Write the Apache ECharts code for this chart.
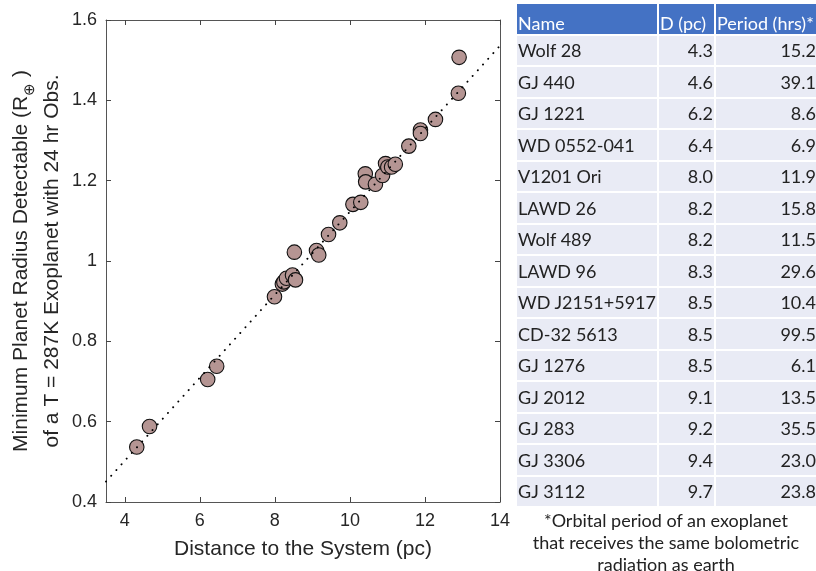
<!DOCTYPE html>
<html lang="en">
<head>
    <meta charset="UTF-8">
    <title>Exoplanet radius</title>
    <style>
        body { margin: 0; background: #fff; }
        .wrap { position: relative; width: 816px; height: 571px; }
        .chart { position: absolute; left: 0; top: 0; width: 816px; height: 571px; }
        table {
            position: absolute; left: 515px; top: 2px; width: 302px;
            border-collapse: separate; border-spacing: 2px;
            font-family: Lato, "Open Sans", sans-serif; font-size: 18px; color: #222;
            table-layout: fixed;
        }
        td, th { padding: 0 1px; height: 29.5px; background: #E9EBF5; vertical-align: middle; white-space: nowrap; overflow: visible; }
        th { background: #4472C4; color: #fff; font-weight: normal; vertical-align: bottom; padding-bottom: 0; text-align: left; }
        .num { text-align: right; }
        .note {
            position: absolute; left: 516px; top: 509px; width: 300px; text-align: center;
            font-family: Lato, "Open Sans", sans-serif; font-size: 18px; line-height: 22px; color: #222;
        }
    </style>
</head>
<body>
    <div class="wrap">
        <div class="chart"></div>
        <table id="tbl"></table>
        <div class="note">*Orbital period of an exoplanet<br>that receives the same bolometric<br>radiation as earth</div>
    </div>
    <script src="https://cdn.jsdelivr.net/npm/echarts@6/dist/echarts.min.js"></script>
    <script>
        // scatter points
        const distance = [4.32, 4.66, 6.21, 6.45, 7.99, 8.20, 8.24, 8.31, 8.47, 8.55, 8.52, 9.11, 9.17, 9.43, 9.73,
            10.08, 10.29, 10.41, 10.42, 10.68, 10.87, 10.95, 11.01, 11.11, 11.21, 11.57, 11.88, 11.88, 12.28, 12.89, 12.91]
        const radius = [0.537, 0.588, 0.705, 0.738, 0.911, 0.9425, 0.948, 0.957, 0.965, 0.953, 1.022, 1.026, 1.015, 1.066, 1.095,
            1.141, 1.146, 1.217, 1.197, 1.191, 1.213, 1.2425, 1.234, 1.234, 1.241, 1.286, 1.326, 1.3175, 1.3525, 1.4175, 1.507]
        // dotted trend line ends
        const trendX = [3.5, 14]
        const trendY = [0.451, 1.536]
        const xTicks = [4, 6, 8, 10, 12, 14]
        const yTicks = [0.4, 0.6, 0.8, 1, 1.2, 1.4, 1.6]

        // table
        const names = ['Wolf 28', 'GJ 440', 'GJ 1221', 'WD 0552-041', 'V1201 Ori', 'LAWD 26', 'Wolf 489', 'LAWD 96',
            'WD J2151+5917', 'CD-32 5613', 'GJ 1276', 'GJ 2012', 'GJ 283', 'GJ 3306', 'GJ 3112']
        const dists = ['4.3', '4.6', '6.2', '6.4', '8.0', '8.2', '8.2', '8.3', '8.5', '8.5', '8.5', '9.1', '9.2', '9.4', '9.7']
        const periods = ['15.2', '39.1', '8.6', '6.9', '11.9', '15.8', '11.5', '29.6', '10.4', '99.5', '6.1', '13.5', '35.5', '23.0', '23.8']

        let html = '<colgroup><col style="width:140px"><col style="width:55px"><col style="width:101px"></colgroup>'
        html += '<tr><th>Name</th><th>D (pc)</th><th>Period (hrs)*</th></tr>'
        names.forEach((n, i) => {
            html += `<tr><td>${n}</td><td class="num">${dists[i]}</td><td class="num">${periods[i]}</td></tr>`
        })
        document.querySelector('#tbl').innerHTML = html

        const chart = echarts.init(document.querySelector('.chart'))
        const axisCol = '#262626'
        const font = '"Liberation Sans", Arial, sans-serif'
        const boxAxis = {
            axisLine: { show: true, lineStyle: { color: '#555', width: 1 } },
            axisTick: { show: true, inside: true, length: 5, lineStyle: { color: '#444' } },
            splitLine: { show: false }
        }
        chart.setOption({
            animation: false,
            grid: { left: 106, top: 20, width: 394, height: 482 },
            xAxis: [{
                type: 'value', min: 3.5, max: 14, position: 'bottom',
                ...boxAxis,
                axisTick: { ...boxAxis.axisTick, customValues: xTicks },
                axisLabel: { customValues: xTicks, color: axisCol, fontSize: 18, fontFamily: font, margin: 10 },
                name: 'Distance to the System (pc)', nameLocation: 'middle', nameGap: 37,
                nameTextStyle: { color: axisCol, fontSize: 21, fontFamily: font }
            }, {
                type: 'value', min: 3.5, max: 14, position: 'top',
                ...boxAxis,
                axisTick: { ...boxAxis.axisTick, customValues: xTicks },
                axisLabel: { show: false }
            }],
            yAxis: [{
                type: 'value', min: 0.4, max: 1.6, position: 'left',
                ...boxAxis,
                axisTick: { ...boxAxis.axisTick, customValues: yTicks },
                axisLabel: { customValues: yTicks, color: axisCol, fontSize: 18, fontFamily: font, margin: 9 },
                name: '{a|Minimum Planet Radius Detectable (R}{s|⊕}{a| )}\n{a|of a T = 287K Exoplanet with 24 hr Obs.}',
                nameLocation: 'middle', nameGap: 38,
                nameTextStyle: {
                    color: axisCol, fontSize: 21, fontFamily: font, lineHeight: 31,
                    rich: {
                        a: { fontSize: 21, fontFamily: font, color: axisCol, lineHeight: 31 },
                        s: { fontSize: 15, fontFamily: font, color: axisCol, lineHeight: 31, padding: [16, 0, 0, 0] }
                    }
                }
            }, {
                type: 'value', min: 0.4, max: 1.6, position: 'right',
                ...boxAxis,
                axisTick: { ...boxAxis.axisTick, customValues: yTicks },
                axisLabel: { show: false }
            }],
            series: [{
                type: 'scatter',
                data: distance.map((d, i) => [d, radius[i]]),
                symbolSize: 14.5,
                itemStyle: { color: '#B59593', borderColor: '#111', borderWidth: 1.1, opacity: 1 },
                z: 2
            }, {
                type: 'line',
                data: trendX.map((d, i) => [d, trendY[i]]),
                showSymbol: false, symbol: 'none',
                lineStyle: { color: '#000', width: 1.9, type: [0.1, 7.6], cap: 'round' },
                z: 3
            }]
        })
    </script>
</body>
</html>
